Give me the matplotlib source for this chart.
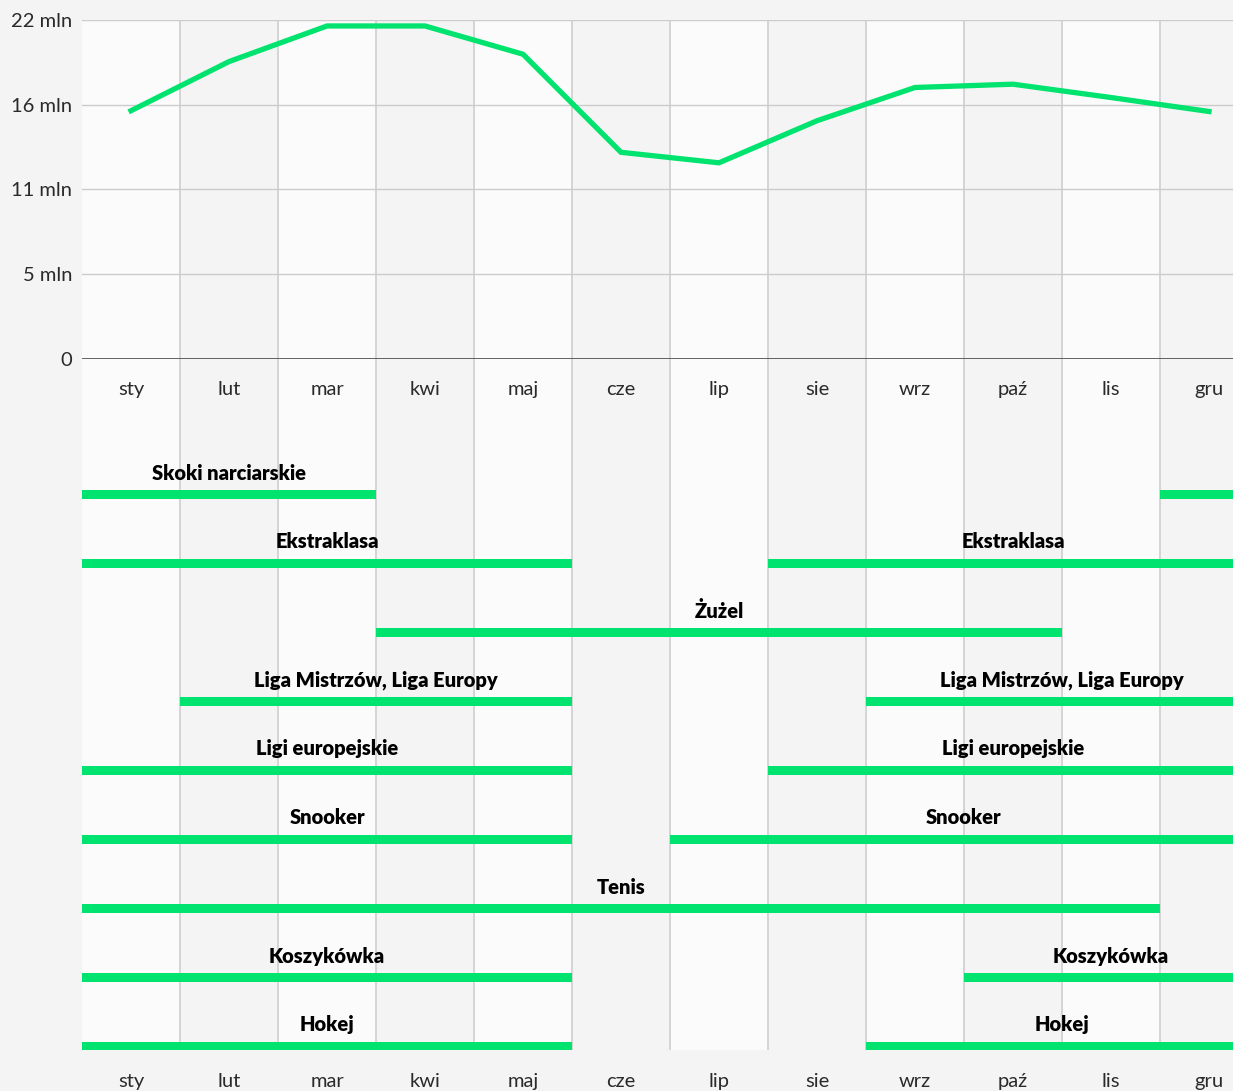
import matplotlib
matplotlib.use('Agg')
import matplotlib.pyplot as plt

plt.rcParams['font.family'] = ['Lato', 'DejaVu Sans']

# Miesiące i oglądalność (mln widzów)
months = ['sty', 'lut', 'mar', 'kwi', 'maj', 'cze', 'lip', 'sie', 'wrz', 'paź', 'lis', 'gru']
viewers = [15.82, 18.95, 21.22, 21.22, 19.42, 13.17, 12.50, 15.18, 17.30, 17.51, 16.66, 15.77]
ytick_vals = [0, 5.4, 10.8, 16.2, 21.6]
ytick_labels = ['0', '5 mln', '11 mln', '16 mln', '22 mln']

# Sezony dyscyplin (od miesiąca, do miesiąca)
sports = ['Skoki narciarskie', 'Ekstraklasa', 'Żużel', 'Liga Mistrzów, Liga Europy',
          'Ligi europejskie', 'Snooker', 'Tenis', 'Koszykówka', 'Hokej']
seasons = [[(0, 3), (11, 12)],
           [(0, 5), (7, 12)],
           [(3, 10)],
           [(1, 5), (8, 12)],
           [(0, 5), (7, 12)],
           [(0, 5), (6, 12)],
           [(0, 11)],
           [(0, 5), (9, 12)],
           [(0, 5), (8, 12)]]

GREEN = '#00e36f'
BG = '#f4f4f4'
LIGHT = '#fbfbfb'
GRID = '#d2d2d2'

W, H = 1233, 1091
fig = plt.figure(figsize=(W / 100, H / 100), dpi=100)
fig.patch.set_facecolor(BG)

def px_axes(x0, y0, x1, y1):
    return fig.add_axes([x0 / W, 1 - y1 / H, (x1 - x0) / W, (y1 - y0) / H])

XMAX = (W - 82) / 98.0

# tło: paski kolumn dla miesięcy
bg = px_axes(82, 20, W, 1050)
bg.set_xlim(0, XMAX)
bg.set_ylim(0, 1)
for i in range(len(months)):
    bg.axvspan(i, i + 1, color=LIGHT if i % 2 == 0 else BG, lw=0)
for i in range(1, len(months) + 1):
    bg.axvline(i, color=GRID, lw=1.3)
bg.axis('off')

# wykres liniowy
ax = px_axes(82, 20, W, 359)
ax.patch.set_alpha(0)
xs = [i + 0.5 for i in range(len(months))]
ax.plot(xs, viewers, color=GREEN, lw=3.8, solid_joinstyle='miter', zorder=3)
ax.set_xlim(0, XMAX)
ax.set_ylim(0, 21.6)
ax.set_yticks(ytick_vals)
ax.set_yticklabels(ytick_labels)
for v in ytick_vals[1:]:
    ax.axhline(v, color='#cccccc', lw=1, zorder=1)
ax.axhline(0, color='#555555', lw=1.3, zorder=2)
ax.set_xticks(xs)
ax.set_xticklabels(months)
ax.tick_params(axis='both', length=0, labelsize=14.5, colors='#2a2a2a')
ax.tick_params(axis='x', pad=15.5)
ax.tick_params(axis='y', pad=7)
for s in ax.spines.values():
    s.set_visible(False)

# harmonogram sezonów
g = px_axes(82, 425, W, 1050)
g.patch.set_alpha(0)
g.set_xlim(0, XMAX)
g.set_ylim((1050 - 494) / 69.0, (425 - 494) / 69.0)
for row, (name, segs) in enumerate(zip(sports, seasons)):
    for a, b in segs:
        g.barh(row, b - a, left=a, height=9 / 69.0, color=GREEN, lw=0)
        if b - a > 1:
            g.text((a + b) / 2, row - 21 / 69.0, name, ha='center', va='center',
                   fontsize=14.5, fontweight='heavy', color='#000000')
g.set_xticks(xs)
g.set_xticklabels(months)
g.set_yticks([])
g.tick_params(axis='x', length=0, labelsize=14.5, colors='#2a2a2a', pad=16.5)
for s in g.spines.values():
    s.set_visible(False)

fig.savefig('out.png', dpi=100, facecolor=BG)
